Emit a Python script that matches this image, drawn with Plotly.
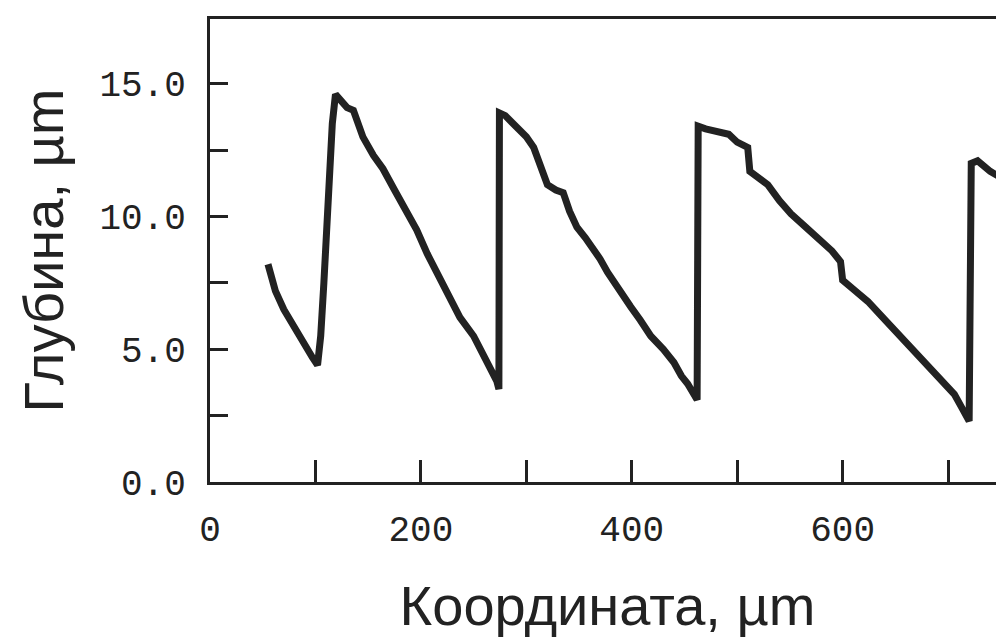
import plotly.graph_objects as go

# Traced profile (coordinate in µm, depth in µm)
coord = [55, 62, 70, 80, 90, 97, 102,
         105, 108, 111, 113, 116, 119,
         124, 130, 136, 145, 155, 164, 175, 187, 196, 206, 215, 225, 237, 250, 262, 272, 274,
         274.5,
         280, 287, 294, 300, 307, 313, 320, 328, 335, 341, 348, 356, 364, 370, 377, 388, 399,
         408, 418, 430, 440, 447, 453, 462,
         463,
         470, 484, 492, 500, 510, 512, 520, 529, 540, 551, 565, 579, 590, 598, 600, 612, 624,
         638, 652, 666, 681, 694, 706, 713, 720,
         722,
         728, 740, 753]
depth = [8.2, 7.2, 6.5, 5.8, 5.2, 4.7, 4.4,
         5.5, 7.5, 10.0, 12.3, 13.5, 14.6,
         14.4, 14.1, 14.0, 13.0, 12.3, 11.8, 11.0, 10.2, 9.5, 8.6, 7.9, 7.1, 6.2, 5.5, 4.6, 3.8, 3.5,
         13.9,
         13.8, 13.5, 13.2, 13.0, 12.6, 11.9, 11.2, 11.0, 10.9, 10.2, 9.6, 9.2, 8.8, 8.4, 7.9, 7.2, 6.6,
         6.1, 5.5, 5.0, 4.5, 4.0, 3.7, 3.1,
         13.4,
         13.3, 13.2, 13.1, 12.8, 12.6, 11.7, 11.5, 11.2, 10.6, 10.1, 9.6, 9.1, 8.7, 8.3, 7.6, 7.2, 6.8,
         6.2, 5.6, 5.0, 4.3, 3.8, 3.3, 2.8, 2.3,
         12.0,
         12.1, 11.7, 11.4]

x_tickvals = [0, 100, 200, 300, 400, 500, 600, 700]
x_ticktext = ["0", "", "200", "", "400", "", "600", ""]
y_tickvals = [0, 2.5, 5, 7.5, 10, 12.5, 15]
y_ticktext = ["0.0", "", "5.0", "", "10.0", "", "15.0"]

ink = "#222222"
mono = dict(family="Liberation Mono, Courier New, monospace", size=36, color=ink)
sans = dict(family="Liberation Sans, Arial, sans-serif", size=56, color=ink)

fig = go.Figure()
fig.add_trace(go.Scatter(x=coord, y=depth, mode="lines",
                         line=dict(color=ink, width=7), showlegend=False))

fig.update_layout(
    width=1004, height=639,
    margin=dict(l=202, r=7, t=11, b=165, autoexpand=False),
    paper_bgcolor="white", plot_bgcolor="white",
)
fig.update_xaxes(
    range=[0, 754], tickvals=x_tickvals, ticktext=x_ticktext,
    ticks="inside", ticklen=22, tickwidth=3, tickcolor=ink,
    showline=True, linewidth=3, linecolor=ink, mirror=True,
    showgrid=False, zeroline=False, tickfont=mono, ticklabelstandoff=13,
    automargin=False,
    title=dict(text="Координата, µm", standoff=35, font=sans),
)
fig.update_yaxes(
    range=[0, 17.44], tickvals=y_tickvals, ticktext=y_ticktext,
    ticks="inside", ticklen=18, tickwidth=3, tickcolor=ink,
    showline=True, linewidth=3, linecolor=ink,
    showgrid=False, zeroline=False, tickfont=mono, ticklabelstandoff=14,
    automargin=False,
    title=dict(text="Глубина, µm", standoff=18, font=sans),
)

fig.write_html("out.html")
